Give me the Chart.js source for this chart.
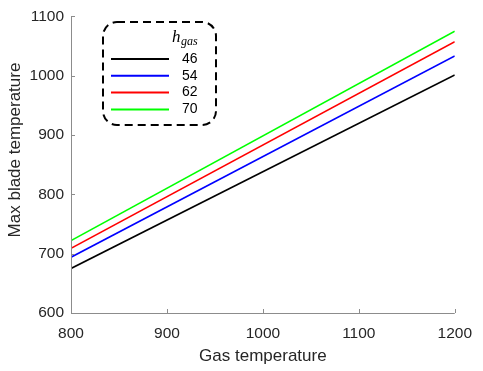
<!DOCTYPE html>
<html>
<head>
<meta charset="utf-8">
<script src="https://cdn.jsdelivr.net/npm/chart.js@4"></script>
<style>
  html, body { margin: 0; padding: 0; background: #fff; }
  #wrap { width: 483px; height: 371px; position: relative; }
</style>
</head>
<body>
<div id="wrap"><canvas id="bladeChart"></canvas></div>
<script>
// data
const gasTemps = [800, 1200];
const hGas = ['46', '54', '62', '70'];
const blade46 = [675, 1001];
const blade54 = [694, 1033];
const blade62 = [709, 1057];
const blade70 = [722, 1075];
const xTicks = [800, 900, 1000, 1100, 1200];
const yTicks = [600, 700, 800, 900, 1000, 1100];

const colors = ['#000000', '#0000ff', '#ff0000', '#00ff00'];
const series = [blade46, blade54, blade62, blade70];
const axisGray = '#8c8c8c';
const textColor = '#262626';
const fontFam = '"Liberation Sans", Arial, sans-serif';

function toPoints(ys) {
    return gasTemps.map((x, i) => ({ x: x, y: ys[i] }));
}

// small inward tick marks + left/bottom axis lines + y title
const innerTicks = {
    id: 'innerTicks',
    afterDraw(chart) {
        const ctx = chart.ctx;
        const a = chart.chartArea;
        const xs = chart.scales.x, ys = chart.scales.y;
        ctx.save();
        ctx.strokeStyle = axisGray;
        ctx.lineWidth = 1;
        ctx.beginPath();
        ctx.moveTo(a.left + 0.5, a.top);
        ctx.lineTo(a.left + 0.5, a.bottom + 0.5);
        ctx.lineTo(a.right, a.bottom + 0.5);
        xTicks.forEach(v => {
            const px = Math.round(xs.getPixelForValue(v)) + 0.5;
            ctx.moveTo(px, a.bottom);
            ctx.lineTo(px, a.bottom - 4);
        });
        yTicks.forEach(v => {
            const py = Math.round(ys.getPixelForValue(v)) + 0.5;
            ctx.moveTo(a.left, py);
            ctx.lineTo(a.left + 4, py);
        });
        ctx.stroke();

        ctx.translate(15, 150);
        ctx.rotate(-Math.PI / 2);
        ctx.fillStyle = textColor;
        ctx.font = '17px ' + fontFam;
        ctx.textAlign = 'center';
        ctx.textBaseline = 'middle';
        ctx.fillText('Max blade temperature', 0, 0);
        ctx.restore();
    }
};

// dashed rounded legend box with h_gas title
const boxLegend = {
    id: 'boxLegend',
    afterDraw(chart) {
        const ctx = chart.ctx;
        ctx.save();
        ctx.setLineDash([8, 5]);
        ctx.lineWidth = 2;
        ctx.strokeStyle = '#000';
        ctx.beginPath();
        ctx.roundRect(103, 22, 113, 103, 14);
        ctx.stroke();
        ctx.setLineDash([]);

        ctx.fillStyle = '#000';
        ctx.textBaseline = 'middle';
        ctx.font = 'italic 17px "Liberation Serif", "Times New Roman", serif';
        ctx.fillText('h', 172, 38);
        ctx.font = 'italic 12px "Liberation Serif", "Times New Roman", serif';
        ctx.fillText('gas', 181, 42);

        chart.data.datasets.forEach((ds, i) => {
            const y = 59 + i * 16.8;
            ctx.strokeStyle = ds.borderColor;
            ctx.lineWidth = 2;
            ctx.beginPath();
            ctx.moveTo(111, y);
            ctx.lineTo(169, y);
            ctx.stroke();
            ctx.fillStyle = '#000';
            ctx.font = '14px ' + fontFam;
            ctx.fillText(ds.label, 182, y);
        });
        ctx.restore();
    }
};

new Chart(document.getElementById('bladeChart'), {
    type: 'scatter',
    data: {
        datasets: hGas.map((lab, i) => ({
            label: lab,
            data: toPoints(series[i]),
            showLine: true,
            borderColor: colors[i],
            backgroundColor: colors[i],
            borderWidth: 1.6,
            pointRadius: 0,
            tension: 0
        }))
    },
    options: {
        responsive: true,
        maintainAspectRatio: false,
        animation: false,
        layout: { padding: { left: 0, right: 27, top: 16, bottom: 0 } },
        scales: {
            x: {
                type: 'linear',
                min: 800, max: 1200,
                afterBuildTicks: s => { s.ticks = xTicks.map(v => ({ value: v })); },
                afterFit: s => { s.height = 58; },
                grid: { display: false, drawTicks: false },
                border: { display: false },
                ticks: {
                    color: textColor,
                    font: { family: fontFam, size: 15.5 },
                    padding: 11,
                    maxRotation: 0,
                    callback: v => String(v)
                },
                title: {
                    display: true,
                    text: 'Gas temperature',
                    color: textColor,
                    font: { family: fontFam, size: 17 },
                    padding: { top: 2 }
                }
            },
            y: {
                type: 'linear',
                min: 600, max: 1100,
                afterBuildTicks: s => { s.ticks = yTicks.map(v => ({ value: v })); },
                afterFit: s => { s.width = 71; },
                grid: { display: false, drawTicks: false },
                border: { display: false },
                ticks: {
                    color: textColor,
                    font: { family: fontFam, size: 15.5 },
                    padding: 7,
                    callback: v => String(v)
                },
                title: { display: false }
            }
        },
        plugins: {
            legend: { display: false },
            tooltip: { enabled: false }
        }
    },
    plugins: [innerTicks, boxLegend]
});
</script>
</body>
</html>
